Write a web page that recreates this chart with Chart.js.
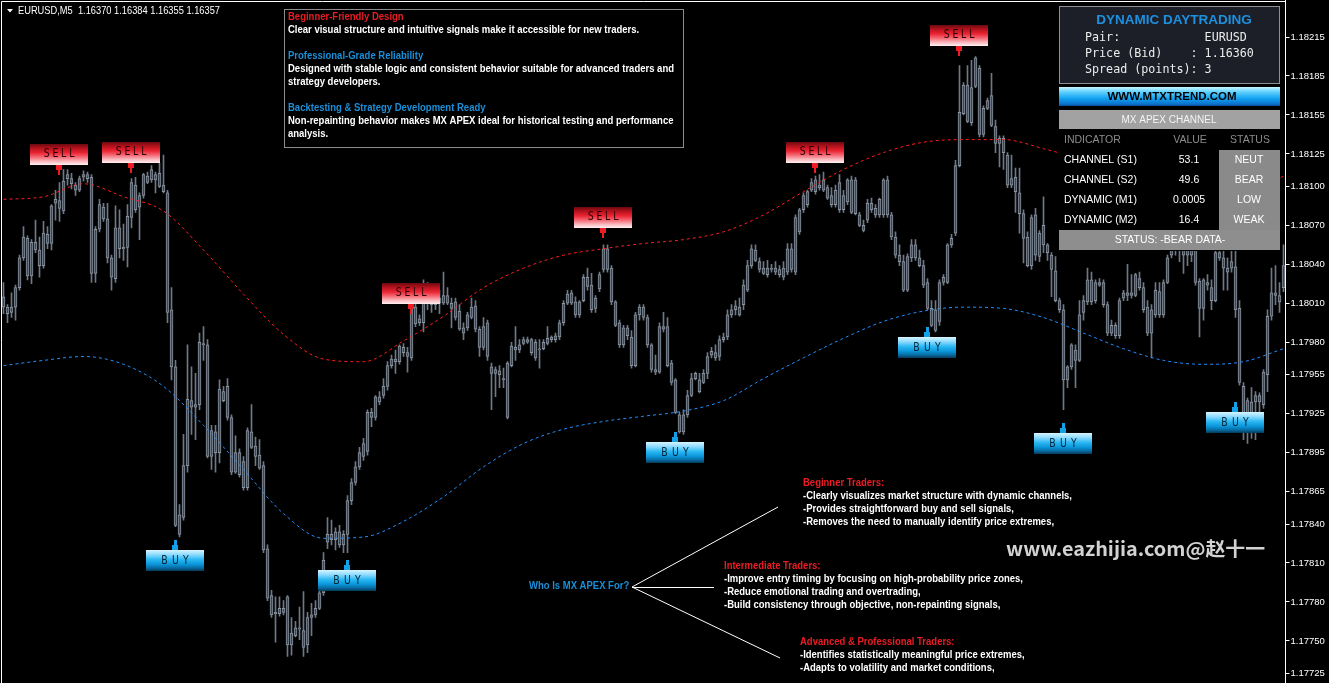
<!DOCTYPE html>
<html>
<head>
<meta charset="utf-8">
<title>EURUSD M5 - MX APEX</title>
<script src="https://cdn.jsdelivr.net/npm/chart.js@4.4.1/dist/chart.umd.min.js"></script>
<style>
  html, body { margin: 0; padding: 0; background: #000; overflow: hidden; }
  #chart { display: block; }
</style>
</head>
<body>
<canvas id="chart" width="1329" height="683"></canvas>
<script>
// EURUSD M5 candles (one entry per bar, left to right)
const openPrices = [
  1.18015, 1.18007, 1.18003, 1.18007, 1.18022, 1.18045, 1.18060, 1.18031, 1.18057, 1.18051,
  1.18039, 1.18063, 1.18056, 1.18087, 1.18089, 1.18081, 1.18106, 1.18106, 1.18101, 1.18097,
  1.18107, 1.18109, 1.18107, 1.18033, 1.18067, 1.18084, 1.18075, 1.18045, 1.18029, 1.18068,
  1.18052, 1.18053, 1.18076, 1.18101, 1.18084, 1.18093, 1.18108, 1.18105, 1.18109, 1.18100,
  1.18101, 1.18095, 1.18005, 1.17961, 1.17832, 1.17845, 1.17885, 1.17935, 1.17930, 1.17932,
  1.17979, 1.17978, 1.17892, 1.17911, 1.17895, 1.17942, 1.17946, 1.17922, 1.17880, 1.17895,
  1.17888, 1.17868, 1.17911, 1.17900, 1.17893, 1.17885, 1.17821, 1.17785, 1.17771, 1.17771,
  1.17775, 1.17784, 1.17747, 1.17754, 1.17760, 1.17758, 1.17747, 1.17768, 1.17770, 1.17775,
  1.17787, 1.17826, 1.17832, 1.17828, 1.17834, 1.17824, 1.17832, 1.17858, 1.17872, 1.17884,
  1.17892, 1.17896, 1.17922, 1.17922, 1.17934, 1.17939, 1.17946, 1.17962, 1.17965, 1.17965,
  1.17976, 1.17972, 1.17968, 1.18007, 1.17995, 1.17995, 1.18012, 1.18014, 1.18009, 1.18014,
  1.18010, 1.18016, 1.18010, 1.18011, 1.18004, 1.17991, 1.17991, 1.17999, 1.18008, 1.17990,
  1.17976, 1.17995, 1.17961, 1.17956, 1.17958, 1.17952, 1.17922, 1.17962, 1.17976, 1.17974,
  1.17979, 1.17980, 1.17982, 1.17980, 1.17974, 1.17975, 1.17979, 1.17982, 1.17982, 1.17984,
  1.17995, 1.18010, 1.18010, 1.18011, 1.18001, 1.18012, 1.18030, 1.18024, 1.18006, 1.18021,
  1.18036, 1.18052, 1.18037, 1.18011, 1.17995, 1.17978, 1.17991, 1.17984, 1.17962, 1.18001,
  1.18007, 1.17999, 1.17978, 1.17959, 1.17957, 1.17992, 1.17992, 1.17964, 1.17951, 1.17924,
  1.17911, 1.17924, 1.17939, 1.17952, 1.17951, 1.17949, 1.17956, 1.17970, 1.17972, 1.17969,
  1.17982, 1.17984, 1.18001, 1.18005, 1.18007, 1.18009, 1.18020, 1.18039, 1.18051, 1.18042,
  1.18037, 1.18037, 1.18036, 1.18037, 1.18036, 1.18030, 1.18034, 1.18052, 1.18034, 1.18065,
  1.18082, 1.18086, 1.18097, 1.18096, 1.18101, 1.18097, 1.18099, 1.18093, 1.18086, 1.18103,
  1.18082, 1.18088, 1.18105, 1.18105, 1.18078, 1.18070, 1.18074, 1.18087, 1.18083, 1.18078,
  1.18078, 1.18105, 1.18078, 1.18061, 1.18047, 1.18042, 1.18020, 1.18045, 1.18055, 1.18045,
  1.18039, 1.18026, 1.18006, 1.17989, 1.17996, 1.18026, 1.18026, 1.18055, 1.18064, 1.18116,
  1.18156, 1.18178, 1.18149, 1.18177, 1.18191, 1.18140, 1.18160, 1.18170, 1.18146, 1.18137,
  1.18137, 1.18124, 1.18101, 1.18107, 1.18095, 1.18079, 1.18061, 1.18039, 1.18078, 1.18046,
  1.18070, 1.18055, 1.18047, 1.18035, 1.18012, 1.18005, 1.17951, 1.17961, 1.17974, 1.17966,
  1.18003, 1.18011, 1.18028, 1.18012, 1.18026, 1.18026, 1.18009, 1.17993, 1.17993, 1.17985,
  1.18014, 1.18016, 1.18018, 1.18016, 1.18029, 1.18022, 1.18007, 1.17987, 1.18001, 1.18019,
  1.18001, 1.18026, 1.18047, 1.18051, 1.18059, 1.18055, 1.18047, 1.18051, 1.18051, 1.18027,
  1.18006, 1.18026, 1.18022, 1.18012, 1.18049, 1.18045, 1.18037, 1.18037, 1.18038, 1.18006,
  1.17946, 1.17920, 1.17934, 1.17934, 1.17934, 1.17932, 1.17955, 1.18000, 1.18018, 1.18016,
  1.18022
];
const highPrices = [
  1.18026, 1.18009, 1.18018, 1.18024, 1.18047, 1.18069, 1.18062, 1.18059, 1.18074, 1.18061,
  1.18073, 1.18069, 1.18086, 1.18097, 1.18103, 1.18113, 1.18113, 1.18110, 1.18103, 1.18108,
  1.18112, 1.18111, 1.18109, 1.18069, 1.18090, 1.18087, 1.18087, 1.18047, 1.18085, 1.18082,
  1.18071, 1.18086, 1.18106, 1.18107, 1.18095, 1.18110, 1.18111, 1.18116, 1.18111, 1.18118,
  1.18124, 1.18097, 1.18022, 1.17966, 1.17855, 1.17909, 1.17978, 1.17961, 1.17956, 1.17987,
  1.17992, 1.17982, 1.17916, 1.17916, 1.17951, 1.17946, 1.17952, 1.17924, 1.17908, 1.17898,
  1.17892, 1.17914, 1.17932, 1.17907, 1.17905, 1.17888, 1.17824, 1.17789, 1.17784, 1.17784,
  1.17781, 1.17785, 1.17768, 1.17765, 1.17776, 1.17788, 1.17772, 1.17779, 1.17781, 1.17795,
  1.17818, 1.17845, 1.17843, 1.17837, 1.17839, 1.17835, 1.17862, 1.17875, 1.17888, 1.17899,
  1.17906, 1.17928, 1.17929, 1.17939, 1.17942, 1.17952, 1.17965, 1.17970, 1.17974, 1.17978,
  1.17979, 1.17976, 1.18011, 1.18012, 1.18001, 1.18028, 1.18026, 1.18020, 1.18022, 1.18020,
  1.18034, 1.18022, 1.18014, 1.18014, 1.18009, 1.17995, 1.18003, 1.18014, 1.18012, 1.17992,
  1.17999, 1.17997, 1.17964, 1.17961, 1.17962, 1.17960, 1.17965, 1.17980, 1.17992, 1.17982,
  1.17984, 1.17984, 1.17983, 1.17982, 1.17982, 1.17982, 1.17992, 1.17985, 1.17987, 1.17997,
  1.18012, 1.18020, 1.18020, 1.18015, 1.18012, 1.18032, 1.18037, 1.18033, 1.18016, 1.18034,
  1.18055, 1.18055, 1.18039, 1.18012, 1.17997, 1.17993, 1.17993, 1.17989, 1.18003, 1.18009,
  1.18009, 1.18001, 1.17979, 1.17970, 1.17995, 1.18003, 1.17999, 1.17966, 1.17952, 1.17926,
  1.17928, 1.17943, 1.17956, 1.17957, 1.17956, 1.17959, 1.17972, 1.17976, 1.17978, 1.17985,
  1.17987, 1.18005, 1.18009, 1.18012, 1.18014, 1.18028, 1.18043, 1.18055, 1.18055, 1.18045,
  1.18042, 1.18043, 1.18040, 1.18042, 1.18039, 1.18042, 1.18056, 1.18056, 1.18078, 1.18083,
  1.18095, 1.18097, 1.18106, 1.18108, 1.18109, 1.18111, 1.18101, 1.18099, 1.18101, 1.18109,
  1.18097, 1.18106, 1.18108, 1.18107, 1.18080, 1.18074, 1.18090, 1.18091, 1.18086, 1.18091,
  1.18106, 1.18108, 1.18080, 1.18065, 1.18055, 1.18047, 1.18048, 1.18059, 1.18059, 1.18051,
  1.18043, 1.18029, 1.18012, 1.18012, 1.18028, 1.18032, 1.18056, 1.18063, 1.18120, 1.18193,
  1.18180, 1.18193, 1.18197, 1.18200, 1.18193, 1.18162, 1.18168, 1.18187, 1.18151, 1.18139,
  1.18139, 1.18126, 1.18124, 1.18114, 1.18114, 1.18082, 1.18065, 1.18078, 1.18083, 1.18066,
  1.18092, 1.18056, 1.18049, 1.18046, 1.18014, 1.18009, 1.17962, 1.17979, 1.17978, 1.18012,
  1.18016, 1.18037, 1.18034, 1.18028, 1.18029, 1.18028, 1.18011, 1.17997, 1.17995, 1.18014,
  1.18020, 1.18040, 1.18032, 1.18033, 1.18034, 1.18026, 1.18012, 1.18009, 1.18026, 1.18026,
  1.18028, 1.18047, 1.18063, 1.18070, 1.18070, 1.18063, 1.18059, 1.18063, 1.18059, 1.18029,
  1.18029, 1.18032, 1.18028, 1.18051, 1.18055, 1.18051, 1.18045, 1.18051, 1.18051, 1.18012,
  1.17949, 1.17937, 1.17945, 1.17942, 1.17941, 1.17959, 1.18005, 1.18037, 1.18039, 1.18026,
  1.18055
];
const lowPrices = [
  1.18002, 1.17995, 1.17999, 1.17997, 1.18020, 1.18043, 1.18028, 1.18025, 1.18049, 1.18030,
  1.18037, 1.18052, 1.18051, 1.18074, 1.18073, 1.18079, 1.18101, 1.18098, 1.18093, 1.18096,
  1.18104, 1.18103, 1.18026, 1.18026, 1.18065, 1.18073, 1.18041, 1.18020, 1.18026, 1.18045,
  1.18043, 1.18038, 1.18068, 1.18080, 1.18059, 1.18091, 1.18102, 1.18103, 1.18095, 1.18099,
  1.18095, 1.17995, 1.17951, 1.17838, 1.17830, 1.17843, 1.17880, 1.17909, 1.17905, 1.17928,
  1.17966, 1.17891, 1.17882, 1.17880, 1.17887, 1.17934, 1.17920, 1.17878, 1.17879, 1.17876,
  1.17866, 1.17866, 1.17898, 1.17885, 1.17882, 1.17818, 1.17781, 1.17768, 1.17749, 1.17769,
  1.17770, 1.17738, 1.17739, 1.17753, 1.17751, 1.17738, 1.17741, 1.17754, 1.17768, 1.17774,
  1.17785, 1.17821, 1.17824, 1.17820, 1.17822, 1.17818, 1.17818, 1.17855, 1.17870, 1.17882,
  1.17889, 1.17893, 1.17915, 1.17920, 1.17932, 1.17937, 1.17943, 1.17960, 1.17956, 1.17963,
  1.17969, 1.17957, 1.17966, 1.17992, 1.17993, 1.17988, 1.18005, 1.18003, 1.18005, 1.18002,
  1.18009, 1.18009, 1.17991, 1.17997, 1.17989, 1.17982, 1.17989, 1.17998, 1.17988, 1.17969,
  1.17974, 1.17966, 1.17928, 1.17938, 1.17945, 1.17945, 1.17921, 1.17961, 1.17966, 1.17972,
  1.17978, 1.17979, 1.17970, 1.17966, 1.17960, 1.17974, 1.17978, 1.17980, 1.17980, 1.17982,
  1.17993, 1.18009, 1.18009, 1.17999, 1.17999, 1.18011, 1.18020, 1.18003, 1.18003, 1.18019,
  1.18034, 1.18034, 1.18009, 1.17992, 1.17976, 1.17976, 1.17982, 1.17960, 1.17961, 1.17997,
  1.17997, 1.17976, 1.17957, 1.17955, 1.17956, 1.17988, 1.17961, 1.17947, 1.17925, 1.17910,
  1.17909, 1.17922, 1.17938, 1.17951, 1.17941, 1.17948, 1.17952, 1.17968, 1.17966, 1.17966,
  1.17980, 1.17982, 1.17999, 1.18001, 1.18000, 1.18005, 1.18019, 1.18037, 1.18042, 1.18034,
  1.18032, 1.18030, 1.18034, 1.18032, 1.18030, 1.18028, 1.18032, 1.18034, 1.18032, 1.18063,
  1.18080, 1.18084, 1.18096, 1.18094, 1.18097, 1.18096, 1.18090, 1.18084, 1.18084, 1.18080,
  1.18080, 1.18086, 1.18079, 1.18078, 1.18069, 1.18065, 1.18072, 1.18080, 1.18076, 1.18076,
  1.18076, 1.18076, 1.18059, 1.18045, 1.18039, 1.18019, 1.18019, 1.18042, 1.18043, 1.18038,
  1.18022, 1.18005, 1.17992, 1.17988, 1.17993, 1.18024, 1.18025, 1.18053, 1.18062, 1.18115,
  1.18155, 1.18149, 1.18147, 1.18176, 1.18138, 1.18138, 1.18159, 1.18146, 1.18126, 1.18115,
  1.18113, 1.18099, 1.18099, 1.18080, 1.18064, 1.18041, 1.18038, 1.18036, 1.18043, 1.18042,
  1.18049, 1.18043, 1.18015, 1.18011, 1.18003, 1.17928, 1.17945, 1.17959, 1.17945, 1.17965,
  1.17997, 1.18009, 1.18009, 1.18010, 1.18023, 1.18007, 1.17985, 1.17985, 1.17983, 1.17983,
  1.18012, 1.18012, 1.18014, 1.18015, 1.18020, 1.18003, 1.17985, 1.17968, 1.17999, 1.17999,
  1.17999, 1.18025, 1.18045, 1.18047, 1.18042, 1.18033, 1.18039, 1.18042, 1.18024, 1.17984,
  1.17997, 1.18020, 1.18005, 1.18011, 1.18043, 1.18020, 1.18020, 1.18034, 1.17999, 1.17947,
  1.17905, 1.17902, 1.17906, 1.17905, 1.17926, 1.17929, 1.17942, 1.17997, 1.18009, 1.18003,
  1.18019
];
const closePrices = [
  1.18007, 1.18002, 1.18007, 1.18022, 1.18045, 1.18061, 1.18031, 1.18057, 1.18051, 1.18039,
  1.18064, 1.18056, 1.18085, 1.18090, 1.18083, 1.18104, 1.18109, 1.18102, 1.18097, 1.18106,
  1.18109, 1.18106, 1.18033, 1.18067, 1.18086, 1.18075, 1.18045, 1.18030, 1.18068, 1.18052,
  1.18053, 1.18077, 1.18103, 1.18082, 1.18093, 1.18109, 1.18103, 1.18113, 1.18105, 1.18110,
  1.18096, 1.18003, 1.17961, 1.17839, 1.17847, 1.17885, 1.17936, 1.17930, 1.17932, 1.17980,
  1.17978, 1.17892, 1.17912, 1.17895, 1.17944, 1.17935, 1.17922, 1.17880, 1.17895, 1.17878,
  1.17868, 1.17912, 1.17899, 1.17892, 1.17883, 1.17820, 1.17783, 1.17770, 1.17772, 1.17775,
  1.17772, 1.17747, 1.17756, 1.17760, 1.17759, 1.17745, 1.17768, 1.17770, 1.17775, 1.17787,
  1.17812, 1.17832, 1.17828, 1.17834, 1.17824, 1.17832, 1.17858, 1.17872, 1.17884, 1.17895,
  1.17902, 1.17926, 1.17926, 1.17938, 1.17938, 1.17946, 1.17962, 1.17967, 1.17967, 1.17977,
  1.17972, 1.17969, 1.18009, 1.17994, 1.17998, 1.18012, 1.18014, 1.18009, 1.18014, 1.18010,
  1.18016, 1.18010, 1.18006, 1.17999, 1.17990, 1.17987, 1.18001, 1.18007, 1.17990, 1.17976,
  1.17992, 1.17969, 1.17956, 1.17959, 1.17955, 1.17951, 1.17964, 1.17977, 1.17974, 1.17978,
  1.17982, 1.17982, 1.17972, 1.17968, 1.17975, 1.17980, 1.17983, 1.17984, 1.17985, 1.17995,
  1.18010, 1.18017, 1.18018, 1.18001, 1.18011, 1.18030, 1.18023, 1.18005, 1.18014, 1.18032,
  1.18052, 1.18036, 1.18011, 1.17993, 1.17978, 1.17991, 1.17985, 1.17962, 1.18001, 1.18007,
  1.17999, 1.17978, 1.17959, 1.17957, 1.17992, 1.17990, 1.17962, 1.17949, 1.17926, 1.17911,
  1.17924, 1.17939, 1.17952, 1.17956, 1.17942, 1.17956, 1.17969, 1.17973, 1.17968, 1.17982,
  1.17984, 1.18001, 1.18005, 1.18008, 1.18001, 1.18024, 1.18039, 1.18052, 1.18043, 1.18036,
  1.18033, 1.18032, 1.18037, 1.18034, 1.18032, 1.18037, 1.18052, 1.18036, 1.18076, 1.18082,
  1.18093, 1.18096, 1.18103, 1.18105, 1.18099, 1.18105, 1.18091, 1.18086, 1.18097, 1.18082,
  1.18093, 1.18105, 1.18080, 1.18079, 1.18070, 1.18066, 1.18087, 1.18082, 1.18078, 1.18090,
  1.18105, 1.18078, 1.18061, 1.18047, 1.18042, 1.18020, 1.18046, 1.18055, 1.18045, 1.18039,
  1.18024, 1.18006, 1.17993, 1.18005, 1.18026, 1.18030, 1.18055, 1.18060, 1.18116, 1.18157,
  1.18178, 1.18150, 1.18176, 1.18199, 1.18140, 1.18160, 1.18166, 1.18147, 1.18133, 1.18133,
  1.18126, 1.18101, 1.18106, 1.18096, 1.18079, 1.18060, 1.18039, 1.18076, 1.18047, 1.18064,
  1.18055, 1.18049, 1.18036, 1.18012, 1.18005, 1.17951, 1.17961, 1.17978, 1.17966, 1.18001,
  1.18012, 1.18028, 1.18011, 1.18026, 1.18024, 1.18009, 1.17987, 1.17987, 1.17985, 1.18012,
  1.18018, 1.18018, 1.18016, 1.18032, 1.18022, 1.18005, 1.17987, 1.18005, 1.18020, 1.18001,
  1.18026, 1.18045, 1.18051, 1.18059, 1.18055, 1.18047, 1.18051, 1.18047, 1.18026, 1.18006,
  1.18028, 1.18024, 1.18012, 1.18049, 1.18045, 1.18037, 1.18034, 1.18042, 1.18005, 1.17949,
  1.17920, 1.17935, 1.17920, 1.17939, 1.17939, 1.17957, 1.18000, 1.18018, 1.18016, 1.18011,
  1.18039
];

// channel bands, one reading every 10th bar
const bandStep = 10;
const upperBand = [
  1.18090, 1.18092, 1.18102, 1.18092, 1.18081, 1.18051, 1.18017, 1.17986, 1.17967, 1.17965,
  1.17981, 1.18000, 1.18022, 1.18037, 1.18047, 1.18052, 1.18056, 1.18059, 1.18065, 1.18078,
  1.18096, 1.18113, 1.18126, 1.18134, 1.18136, 1.18136, 1.18129, 1.18120, 1.18107, 1.18099,
  1.18096, 1.18090, 1.18108
];
const lowerBand = [
  1.17962, 1.17966, 1.17969, 1.17963, 1.17946, 1.17916, 1.17882, 1.17848, 1.17829, 1.17830,
  1.17842, 1.17861, 1.17884, 1.17902, 1.17913, 1.17919, 1.17923, 1.17927, 1.17935, 1.17952,
  1.17968, 1.17983, 1.17996, 1.18004, 1.18007, 1.18006, 1.17999, 1.17987, 1.17975, 1.17966,
  1.17963, 1.17965, 1.17975
];

// signals: bar index and the price the arrow points at
const sellIndex = [14, 32, 102, 150, 203, 239];
const sellLevel = [1.18109, 1.18110, 1.18002, 1.18060, 1.18110, 1.18200];
const buyIndex = [43, 86, 168, 231, 265, 308];
const buyLevel = [1.17828, 1.17812, 1.17911, 1.17992, 1.17918, 1.17934];

// price axis
const priceTicks = [
  1.18215, 1.18185, 1.18155, 1.18125, 1.18100, 1.18070, 1.18040, 1.18010, 1.17980,
  1.17955, 1.17925, 1.17895, 1.17865, 1.17840, 1.17810, 1.17780, 1.17750, 1.17725
];
const priceMax = 1.182435;
const priceMin = 1.177176;

// text content
const headerText = 'EURUSD,M5  1.16370 1.16384 1.16355 1.16357';
const infoText = [
  ['Beginner-Friendly Design', 'red'],
  ['Clear visual structure and intuitive signals make it accessible for new traders.', 'white'],
  ['', 'white'],
  ['Professional-Grade Reliability', 'blue'],
  ['Designed with stable logic and consistent behavior suitable for advanced traders and', 'white'],
  ['strategy developers.', 'white'],
  ['', 'white'],
  ['Backtesting & Strategy Development Ready', 'blue'],
  ['Non-repainting behavior makes MX APEX ideal for historical testing and performance', 'white'],
  ['analysis.', 'white']
];
const audienceTitle = 'Who Is MX APEX For?';
const audienceGroups = [
  ['Beginner Traders:',
   '-Clearly visualizes market structure with dynamic channels,',
   '-Provides straightforward buy and sell signals,',
   '-Removes the need to manually identify price extremes,'],
  ['Intermediate Traders:',
   '-Improve entry timing by focusing on high-probability price zones,',
   '-Reduce emotional trading and overtrading,',
   '-Build consistency through objective, non-repainting signals,'],
  ['Advanced & Professional Traders:',
   '-Identifies statistically meaningful price extremes,',
   '-Adapts to volatility and market conditions,']
];
const indicatorNames = ['CHANNEL (S1)', 'CHANNEL (S2)', 'DYNAMIC (M1)', 'DYNAMIC (M2)'];
const indicatorValues = ['53.1', '49.6', '0.0005', '16.4'];
const indicatorStatus = ['NEUT', 'BEAR', 'LOW', 'WEAK'];

const colors = { red: '#ec1c24', blue: '#1a8fd8', white: '#ffffff' };

function squeezeText(ctx, text, x, y, sx) {
  ctx.save();
  ctx.translate(x, y);
  ctx.scale(sx, 1);
  ctx.fillText(text, 0, 0);
  ctx.restore();
}

// letters spread apart, drawn narrower than the font (sx), centred on cx
function spacedText(ctx, text, cx, cy, gap, sx) {
  const chars = [...text];
  const widths = chars.map(ch => ctx.measureText(ch).width * sx);
  const total = widths.reduce((a, b) => a + b, 0) + gap * (chars.length - 1);
  let x = cx - total / 2;
  chars.forEach((ch, k) => {
    squeezeText(ctx, ch, x, cy, sx);
    x += widths[k] + gap;
  });
}

function drawSignal(ctx, cx, tip, isSell) {
  const w = 58, h = 21;
  let top;
  if (isSell) {
    ctx.fillStyle = '#f01c24';
    ctx.fillRect(cx - 3, tip - 10, 6, 5);
    ctx.fillRect(cx - 1, tip - 5, 2, 5);
    top = tip - 10 - h;
  } else {
    ctx.fillStyle = '#12a0e8';
    ctx.fillRect(cx - 1, tip, 3, 5);
    ctx.fillRect(cx - 3, tip + 5, 6, 5);
    top = tip + 10;
  }
  const g = ctx.createLinearGradient(0, top, 0, top + h);
  if (isSell) {
    g.addColorStop(0, '#6a0a10');
    g.addColorStop(0.2, '#b4121c');
    g.addColorStop(0.42, '#ea2432');
    g.addColorStop(0.62, '#f46672');
    g.addColorStop(0.82, '#f9b6bc');
    g.addColorStop(1, '#fff2f3');
  } else {
    g.addColorStop(0, '#d6f5ff');
    g.addColorStop(0.22, '#8edbff');
    g.addColorStop(0.45, '#2cb8f2');
    g.addColorStop(0.68, '#0a96da');
    g.addColorStop(0.86, '#086aa0');
    g.addColorStop(1, '#063a58');
  }
  ctx.fillStyle = g;
  ctx.fillRect(cx - w / 2, top, w, h);
  ctx.fillStyle = isSell ? '#2a0206' : '#02263a';
  ctx.font = '12px "DejaVu Sans"';
  ctx.textBaseline = 'middle';
  ctx.textAlign = 'left';
  spacedText(ctx, isSell ? 'SELL' : 'BUY', cx, top + (isSell ? 10 : 11), isSell ? 2.8 : 4.2, 0.78);
}

function drawHeader(ctx) {
  ctx.fillStyle = '#fff';
  ctx.beginPath();
  ctx.moveTo(7, 9); ctx.lineTo(13, 9); ctx.lineTo(10, 12.5); ctx.closePath();
  ctx.fill();
  ctx.font = '11px "Liberation Sans"';
  ctx.textBaseline = 'middle';
  ctx.textAlign = 'left';
  squeezeText(ctx, headerText, 18, 11, 202 / ctx.measureText(headerText).width);
}

function drawInfoBox(ctx) {
  ctx.fillStyle = '#000';
  ctx.fillRect(284, 9, 400, 139);
  ctx.strokeStyle = '#8c8c8c';
  ctx.lineWidth = 1;
  ctx.strokeRect(284.5, 9.5, 399, 138);
  ctx.font = 'bold 11px "Liberation Sans"';
  ctx.textBaseline = 'middle';
  ctx.textAlign = 'left';
  const sx = 386 / ctx.measureText(infoText[4][0]).width;
  infoText.forEach(([t, c], k) => {
    if (!t) return;
    ctx.fillStyle = colors[c];
    squeezeText(ctx, t, 288, 17 + k * 13, sx);
  });
}

function drawAudience(ctx) {
  ctx.strokeStyle = '#ffffff';
  ctx.lineWidth = 1;
  ctx.beginPath();
  ctx.moveTo(632, 587); ctx.lineTo(778, 507);
  ctx.moveTo(632, 587.5); ctx.lineTo(714, 587.5);
  ctx.moveTo(632, 587); ctx.lineTo(780, 658);
  ctx.stroke();

  ctx.font = 'bold 11px "Liberation Sans"';
  ctx.textBaseline = 'middle';
  ctx.textAlign = 'left';
  const sx = 269 / ctx.measureText(audienceGroups[0][1]).width;
  ctx.fillStyle = colors.blue;
  squeezeText(ctx, audienceTitle, 529, 586, sx);
  const origins = [[803, 483], [724, 566], [800, 642]];
  audienceGroups.forEach((lines, g) => {
    lines.forEach((t, k) => {
      ctx.fillStyle = k === 0 ? colors.red : colors.white;
      squeezeText(ctx, t, origins[g][0], origins[g][1] + k * 13, sx);
    });
  });
}

function drawPanel(ctx) {
  ctx.fillStyle = '#000';
  ctx.fillRect(1058, 5, 222, 246);

  // title box
  ctx.fillStyle = '#1c1f27';
  ctx.fillRect(1059, 6, 221, 78);
  ctx.strokeStyle = '#8e9096';
  ctx.lineWidth = 1;
  ctx.strokeRect(1059.5, 6.5, 220, 77);
  ctx.textBaseline = 'middle';
  ctx.textAlign = 'center';
  ctx.fillStyle = '#1e90e0';
  ctx.font = 'bold 13.5px "Liberation Sans"';
  ctx.fillText('DYNAMIC DAYTRADING', 1174, 20);
  ctx.textAlign = 'left';
  ctx.fillStyle = '#ececec';
  ctx.font = '11.7px "DejaVu Sans Mono"';
  ctx.fillText('Pair:            EURUSD', 1085, 38);
  ctx.fillText('Price (Bid)    : 1.16360', 1085, 54);
  ctx.fillText('Spread (points): 3', 1085, 70);

  // site button
  const g = ctx.createLinearGradient(0, 87, 0, 106);
  g.addColorStop(0, '#c8f4ff');
  g.addColorStop(0.25, '#62d2ff');
  g.addColorStop(0.6, '#12a2f0');
  g.addColorStop(0.9, '#0a72cc');
  g.addColorStop(1, '#0a4a90');
  ctx.fillStyle = g;
  ctx.fillRect(1059, 87, 221, 19);
  ctx.fillStyle = '#000';
  ctx.textAlign = 'center';
  ctx.font = 'bold 11.5px "Liberation Sans"';
  ctx.fillText('WWW.MTXTREND.COM', 1172, 96.5);

  // channel table
  ctx.fillStyle = '#a2a2a2';
  ctx.fillRect(1059, 110, 221, 19);
  ctx.fillStyle = '#f4f4f4';
  ctx.font = '10px "Liberation Sans"';
  ctx.fillText('MX APEX CHANNEL', 1169, 120);

  ctx.fillStyle = '#8a8a8a';
  ctx.fillRect(1219, 150, 61, 80);
  ctx.fillStyle = '#8e8e8e';
  ctx.fillRect(1059, 230, 221, 20);

  ctx.font = '10.5px "Liberation Sans"';
  ctx.fillStyle = '#8c8c8c';
  ctx.textAlign = 'left';
  ctx.fillText('INDICATOR', 1064, 140);
  ctx.textAlign = 'center';
  ctx.fillText('VALUE', 1190, 140);
  ctx.fillText('STATUS', 1250, 140);
  ctx.fillStyle = '#ffffff';
  indicatorNames.forEach((name, k) => {
    const y = 160 + k * 20;
    ctx.textAlign = 'left';
    ctx.fillText(name, 1064, y);
    ctx.textAlign = 'center';
    ctx.fillText(indicatorValues[k], 1189, y);
    ctx.fillText(indicatorStatus[k], 1249, y);
  });
  ctx.fillText('STATUS: -BEAR DATA-', 1170, 240);
}

function drawWatermark(ctx) {
  const t = 'www.eazhijia.com@赵十一';
  ctx.font = 'bold 19px "Noto Sans CJK SC"';
  ctx.textBaseline = 'middle';
  ctx.textAlign = 'left';
  ctx.fillStyle = '#d2d2d2';
  squeezeText(ctx, t, 1006, 549, 259 / ctx.measureText(t).width);
}

const decor = {
  id: 'decor',
  afterDraw(chart) {
    const ctx = chart.ctx;
    const xs = chart.scales.x, ys = chart.scales.y;
    ctx.save();
    ctx.strokeStyle = '#ffffff';
    ctx.lineWidth = 1;
    ctx.beginPath();
    ctx.moveTo(1.5, 683); ctx.lineTo(1.5, 1.5); ctx.lineTo(1286, 1.5);
    ctx.stroke();
    drawHeader(ctx);
    sellIndex.forEach((idx, k) => {
      drawSignal(ctx, Math.floor(xs.getPixelForValue(idx)), Math.round(ys.getPixelForValue(sellLevel[k])), true);
    });
    buyIndex.forEach((idx, k) => {
      drawSignal(ctx, Math.floor(xs.getPixelForValue(idx)), Math.round(ys.getPixelForValue(buyLevel[k])), false);
    });
    drawInfoBox(ctx);
    drawAudience(ctx);
    drawPanel(ctx);
    drawWatermark(ctx);
    ctx.restore();
  }
};

const barLabels = openPrices.map((_, i) => i);
const bandPoints = arr => arr.map((v, k) => ({ x: k * bandStep, y: v }));

const ctx = document.getElementById('chart').getContext('2d');
new Chart(ctx, {
  type: 'bar',
  data: {
    labels: barLabels,
    datasets: [
      {
        type: 'line',
        label: 'Upper channel',
        data: bandPoints(upperBand),
        borderColor: '#ff1c1c',
        borderWidth: 1,
        borderDash: [3, 3],
        pointRadius: 0,
        cubicInterpolationMode: 'monotone',
        order: 0
      },
      {
        type: 'line',
        label: 'Lower channel',
        data: bandPoints(lowerBand),
        borderColor: '#1e8fff',
        borderWidth: 1,
        borderDash: [3, 3],
        pointRadius: 0,
        cubicInterpolationMode: 'monotone',
        order: 0
      },
      {
        label: 'Wick',
        data: lowPrices.map((l, i) => [l, highPrices[i]]),
        backgroundColor: '#6e7986',
        barThickness: 1,
        grouped: false,
        order: 2
      },
      {
        label: 'Body',
        data: openPrices.map((o, i) => [Math.min(o, closePrices[i]), Math.max(o, closePrices[i])]),
        backgroundColor: '#3e4751',
        borderColor: '#8a949f',
        borderWidth: 1,
        borderSkipped: false,
        barThickness: 3,
        minBarLength: 1,
        grouped: false,
        order: 1
      }
    ]
  },
  options: {
    responsive: false,
    animation: false,
    devicePixelRatio: 1,
    layout: { padding: { left: 1.5, right: 0, top: 0, bottom: 0 } },
    plugins: {
      legend: { display: false },
      tooltip: { enabled: false }
    },
    scales: {
      x: { display: false, offset: true },
      y: {
        position: 'right',
        min: priceMin,
        max: priceMax,
        afterBuildTicks: scale => { scale.ticks = priceTicks.map(v => ({ value: v })); },
        afterFit: scale => {
          scale.width = 43.5;
          scale.paddingTop = 0;
          scale.paddingBottom = 0;
        },
        ticks: {
          color: '#ffffff',
          padding: 1,
          autoSkip: false,
          font: { family: 'Liberation Sans', size: 9.5 },
          callback: v => Number(v).toFixed(5)
        },
        grid: { drawOnChartArea: false, color: '#ffffff', tickLength: 4, tickWidth: 1 },
        border: { color: '#ffffff', width: 1 }
      }
    }
  },
  plugins: [decor]
});
</script>
</body>
</html>
